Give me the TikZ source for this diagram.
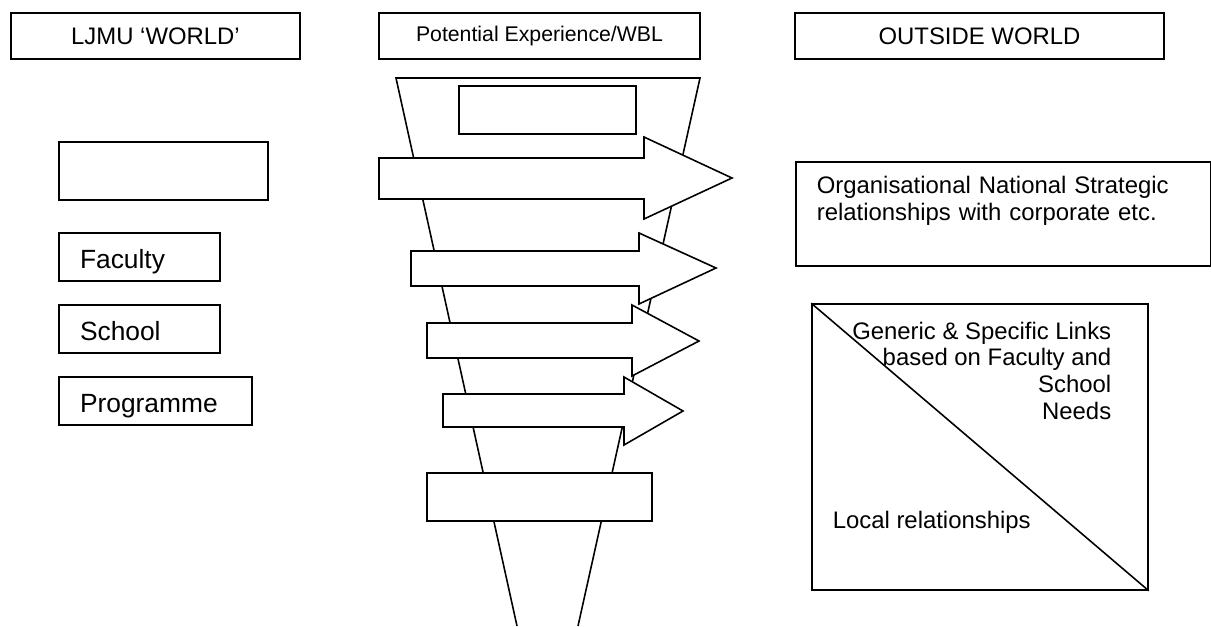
\documentclass[tikz,border=0pt]{standalone}
\usepackage{fontspec}
\setmainfont{Liberation Sans}
\begin{document}
\begin{tikzpicture}[x=0.02cm, y=-0.02cm, line width=0.9pt,
        txt/.style={inner sep=0pt, font=\fontsize{13.6}{15.2}\selectfont},
        box/.style={txt, draw, fill=white, rectangle},
        leftbox/.style={box, align=left, inner xsep=0.42cm, text height=0.44cm, text depth=0pt, font=\fontsize{15}{17}\selectfont},
        arrowbox/.style={draw, fill=white, line join=miter}]
            \useasboundingbox (0,0) rectangle (1211,626);

            %Headings
            \node[box, minimum width=5.78cm, minimum height=0.92cm] at (155.5,36) (ljmu) {LJMU ‘WORLD’};
            \node[box, minimum width=6.42cm, minimum height=0.92cm, font=\fontsize{12.1}{14}\selectfont] at (539.5,36) (wbl) {Potential Experience/WBL};
            \node[box, minimum width=7.38cm, minimum height=0.92cm] at (979.5,36) (outside) {OUTSIDE WORLD};

            %LJMU side
            \node[box, minimum width=4.18cm, minimum height=1.16cm] at (163.5,171) (blank) {};
            \node[leftbox, text width=2.38cm, minimum height=0.96cm] at (139.5,257) (faculty) {Faculty};
            \node[leftbox, text width=2.38cm, minimum height=0.96cm] at (139.5,329) (school) {School};
            \node[leftbox, text width=3.02cm, minimum height=0.96cm] at (155.5,401) (programme) {Programme};

            %Funnel
            \draw (517,626) -- (396,78) -- (700,78) -- (578,626);
            \node[box, minimum width=3.54cm, minimum height=0.96cm] at (547.5,110) (topbox) {};

            %Arrows
            \draw[arrowbox] (379,158) -- (644,158) -- (644,137) -- (732,178) -- (644,219) -- (644,199) -- (379,199) -- cycle;
            \draw[arrowbox] (411,251) -- (639,251) -- (639,233) -- (716,268) -- (639,304) -- (639,286) -- (411,286) -- cycle;
            \draw[arrowbox] (427,323) -- (632,323) -- (632,305) -- (699,341) -- (632,376) -- (632,358) -- (427,358) -- cycle;
            \draw[arrowbox] (443,394) -- (624,394) -- (624,377) -- (683,411) -- (624,445) -- (624,427) -- (443,427) -- cycle;

            \node[box, minimum width=4.5cm, minimum height=0.96cm] at (539.5,497) (bottombox) {};

            %Outside side
            \node[box, anchor=north west, align=left, text width=7.46cm, inner xsep=0.42cm, text height=0.64cm, text depth=1.44cm] at (795,161) (org) {Organisational National Strategic\\relationships with corporate etc.};
            \node[box, minimum width=6.72cm, minimum height=5.72cm] at (980,447) (links) {};
            \draw (links.north west) -- (links.south east);
            \node[txt, anchor=north east, align=right] at (1112,321) (generic) {Generic \& Specific Links\\based on Faculty and\\School\\Needs};
            \node[txt, anchor=base west] at (832,528) (local) {Local relationships};
        \end{tikzpicture}
\end{document}
